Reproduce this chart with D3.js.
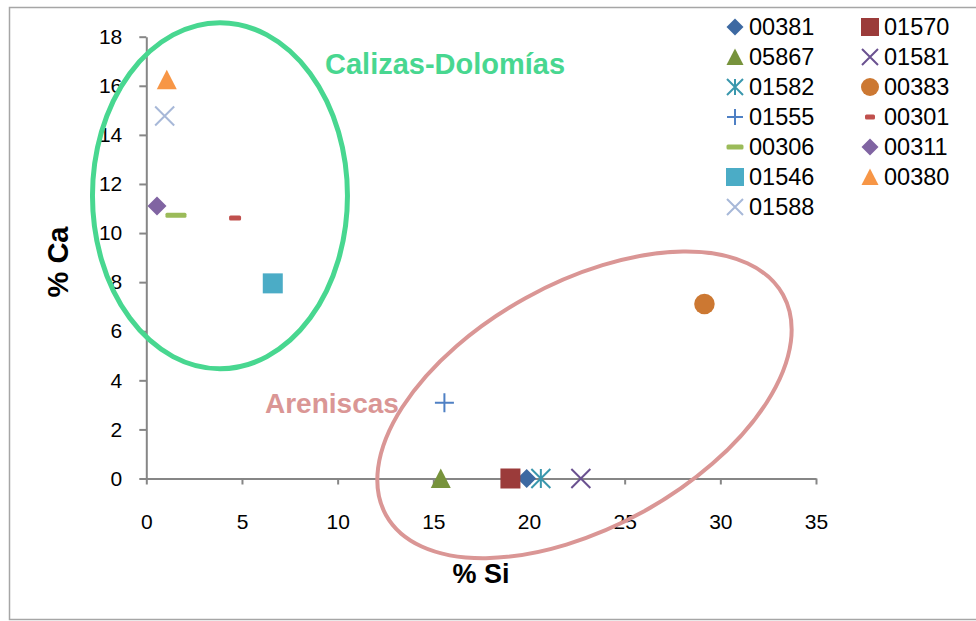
<!DOCTYPE html>
<html>
<head>
<meta charset="utf-8">
<script src="https://cdn.jsdelivr.net/npm/d3@7"></script>
<style>
  body { margin: 0; background: #fff; }
  svg { display: block; font-family: "Liberation Sans", Arial, sans-serif; }
</style>
</head>
<body>
<svg id="chart" width="976" height="621"></svg>
<script>
// sample ids and their values (% Si, % Ca)
const samples = ["00381", "01570", "05867", "01581", "01582", "00383", "01555",
                 "00301", "00306", "00311", "01546", "00380", "01588"];
const siValues = [19.88, 19.03, 15.39, 22.71, 20.62, 29.17, 15.58,
                  4.64, 1.55, 0.56, 6.61, 1.07, 0.96];
const caValues = [0, 0, 0, 0, 0, 7.11, 3.09,
                  10.61, 10.73, 11.1, 7.95, 16.25, 14.77];

const xTicks = [0, 5, 10, 15, 20, 25, 30, 35];
const yTicks = [0, 2, 4, 6, 8, 10, 12, 14, 16, 18];

// marker look per series (same order as samples)
const markerStyle = [
  { shape: "diamond",  color: "#3d69a2", size: 19, legend: 17 },
  { shape: "square",   color: "#9b3b3a", size: 20, legend: 18 },
  { shape: "triangle", color: "#77933c", size: 20, legend: 17 },
  { shape: "x",        color: "#6a5190", size: 19, legend: 16 },
  { shape: "asterisk", color: "#3a97ad", size: 19, legend: 16 },
  { shape: "circle",   color: "#cc7832", size: 20.5, legend: 18 },
  { shape: "plus",     color: "#4f80c4", size: 19, legend: 16 },
  { shape: "dash",     color: "#c0504d", size: 12, legend: 10 },
  { shape: "dash",     color: "#9bbb59", size: 21, legend: 17 },
  { shape: "diamond",  color: "#8064a2", size: 19, legend: 17 },
  { shape: "square",   color: "#4bacc6", size: 20, legend: 18 },
  { shape: "triangle", color: "#f79646", size: 20, legend: 17 },
  { shape: "x",        color: "#a7b8d8", size: 19, legend: 16 }
];

const svg = d3.select("#chart");

// outer chart frame
svg.append("rect")
  .attr("x", 9.5).attr("y", 7.5)
  .attr("width", 1000).attr("height", 612)
  .attr("fill", "none").attr("stroke", "#a6a6a6").attr("stroke-width", 1.5);

const x = d3.scaleLinear().domain([0, 35]).range([146.3, 816]);
const y = d3.scaleLinear().domain([0, 18]).range([478.5, 36.7]);

const axisColor = "#868686";

const yAxis = svg.append("g")
  .attr("transform", `translate(${x(0)},0)`)
  .call(d3.axisLeft(y).tickValues(yTicks).tickSize(7).tickPadding(17).tickSizeOuter(0));
const xAxis = svg.append("g")
  .attr("transform", `translate(0,${y(0)})`)
  .call(d3.axisBottom(x).tickValues(xTicks).tickSize(6).tickSizeOuter(0));

[xAxis, yAxis].forEach(g => {
  g.select(".domain").attr("stroke", axisColor).attr("stroke-width", 2);
  g.selectAll(".tick line").attr("stroke", axisColor).attr("stroke-width", 2);
  g.selectAll("text").attr("fill", "#000").style("font-size", "21px")
    .style("font-family", "'Liberation Sans', Arial, sans-serif");
});
xAxis.selectAll("text").attr("y", 50.5).attr("dy", 0);

// axis titles
svg.append("text")
  .attr("transform", "translate(68,262) rotate(-90)")
  .attr("text-anchor", "middle")
  .style("font-size", "29px").style("font-weight", "bold")
  .text("% Ca");
svg.append("text")
  .attr("x", 481).attr("y", 583)
  .attr("text-anchor", "middle")
  .style("font-size", "27px").style("font-weight", "bold")
  .text("% Si");

function drawMarker(g, st, s) {
  const h = s / 2;
  switch (st.shape) {
    case "diamond":
      g.append("path").attr("d", `M0,${-h}L${h},0L0,${h}L${-h},0Z`).attr("fill", st.color);
      break;
    case "square":
      g.append("rect").attr("x", -h).attr("y", -h).attr("width", s).attr("height", s).attr("fill", st.color);
      break;
    case "triangle":
      g.append("path").attr("d", `M0,${-h}L${h},${h * 0.95}L${-h},${h * 0.95}Z`).attr("fill", st.color);
      break;
    case "circle":
      g.append("circle").attr("r", h).attr("fill", st.color);
      break;
    case "x":
      g.append("path").attr("d", `M${-h},${-h}L${h},${h}M${-h},${h}L${h},${-h}`)
        .attr("stroke", st.color).attr("stroke-width", 2).attr("fill", "none");
      break;
    case "asterisk":
      g.append("path").attr("d", `M${-h},${-h}L${h},${h}M${-h},${h}L${h},${-h}M0,${-h}L0,${h}`)
        .attr("stroke", st.color).attr("stroke-width", 2).attr("fill", "none");
      break;
    case "plus":
      g.append("path").attr("d", `M${-h},0L${h},0M0,${-h}L0,${h}`)
        .attr("stroke", st.color).attr("stroke-width", 2).attr("fill", "none");
      break;
    case "dash":
      g.append("rect").attr("x", -h).attr("y", -2.5).attr("width", s).attr("height", 5)
        .attr("rx", 1.5).attr("fill", st.color);
      break;
  }
}

// data points
const points = svg.append("g");
samples.forEach((name, i) => {
  const g = points.append("g")
    .attr("transform", `translate(${x(siValues[i])},${y(caValues[i])})`);
  drawMarker(g, markerStyle[i], markerStyle[i].size);
});

// legend, two columns filled row by row
const legend = svg.append("g");
samples.forEach((name, i) => {
  const col = i % 2, row = Math.floor(i / 2);
  const lg = legend.append("g")
    .attr("transform", `translate(${col ? 870 : 735},${27 + row * 30})`);
  drawMarker(lg, markerStyle[i], markerStyle[i].legend);
  lg.append("text")
    .attr("x", 14).attr("dy", "0.36em")
    .style("font-size", "23.5px")
    .text(name);
});

// group annotations (ellipse centers in data units, radii in px)
const groups = [
  { label: "Calizas-Dolomías", cx: 3.85, cy: 11.52, rx: 127.5, ry: 173, rot: 0,
    color: "#48d790", width: 5, lx: 325, ly: 74, size: 29 },
  { label: "Areniscas", cx: 22.9, cy: 3.0, rx: 227, ry: 122, rot: -29,
    color: "#da9695", width: 4, lx: 265, ly: 413, size: 28 }
];
groups.forEach(gr => {
  svg.append("ellipse")
    .attr("transform", `translate(${x(gr.cx)},${y(gr.cy)}) rotate(${gr.rot})`)
    .attr("rx", gr.rx).attr("ry", gr.ry)
    .attr("fill", "none").attr("stroke", gr.color).attr("stroke-width", gr.width);
  svg.append("text")
    .attr("x", gr.lx).attr("y", gr.ly)
    .attr("fill", gr.color)
    .style("font-size", gr.size + "px").style("font-weight", "bold")
    .text(gr.label);
});
</script>
</body>
</html>
